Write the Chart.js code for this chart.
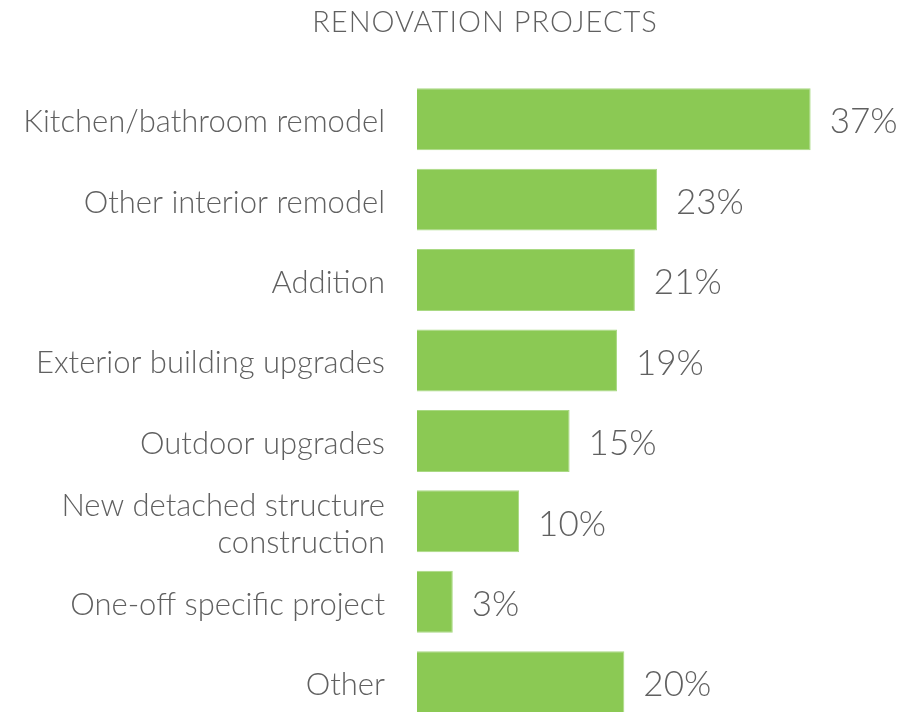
<!DOCTYPE html>
<html>
<head>
<meta charset="utf-8">
<script src="https://cdn.jsdelivr.net/npm/chart.js@4"></script>
<style>
  html, body { margin: 0; padding: 0; background: #fff; overflow: hidden; }
  #wrap { width: 911px; height: 765px; }
</style>
</head>
<body>
<div id="wrap"><canvas id="projetos"></canvas></div>
<script>
// dados do gráfico
const titulo = 'RENOVATION PROJECTS';
const categorias = [
  'Kitchen/bathroom remodel',
  'Other interior remodel',
  'Addition',
  'Exterior building upgrades',
  'Outdoor upgrades',
  ['New detached structure', 'construction'],
  'One-off specific project',
  'Other'
];
// comprimento lido das barras (valores não arredondados)
const valores = [37.4, 22.8, 20.7, 19.0, 14.5, 9.7, 3.4, 19.7];
// texto impresso ao lado de cada barra
const etiquetas = ['37%', '23%', '21%', '19%', '15%', '10%', '3%', '20%'];

const cinza = '#606060';
const fonte = "Lato, 'Open Sans', sans-serif";

// desenha o título e os rótulos de valor
const rotulos = {
  id: 'rotulos',
  afterDatasetsDraw(chart) {
    const ctx = chart.ctx;
    ctx.save();
    ctx.fillStyle = cinza;
    ctx.font = '300 29px ' + fonte;
    ctx.letterSpacing = '1px';
    ctx.textAlign = 'center';
    ctx.textBaseline = 'middle';
    ctx.fillText(titulo, 485, 23);
    ctx.letterSpacing = '0px';

    ctx.font = '300 35px ' + fonte;
    ctx.textAlign = 'left';
    chart.getDatasetMeta(0).data.forEach((bar, i) => {
      ctx.fillText(etiquetas[i], bar.x + 19, bar.y + 3);
    });
    ctx.restore();
  }
};

new Chart(document.getElementById('projetos'), {
  type: 'bar',
  data: {
    labels: categorias,
    datasets: [{
      data: valores,
      backgroundColor: '#8bc954',
      borderColor: '#a9d983',
      borderWidth: 1,
      barPercentage: 0.77,
      categoryPercentage: 1
    }]
  },
  options: {
    indexAxis: 'y',
    responsive: true,
    maintainAspectRatio: false,
    animation: false,
    layout: {
      padding: { top: 79, right: 73, bottom: 1, left: 0 }
    },
    plugins: {
      legend: { display: false },
      tooltip: { enabled: false }
    },
    scales: {
      x: {
        display: false,
        min: 0,
        max: 40
      },
      y: {
        grid: { display: false },
        border: { display: false },
        afterFit: scale => { scale.width = 417; },
        ticks: {
          color: cinza,
          padding: 24,
          labelOffset: 3,
          font: { family: fonte, size: 31, weight: 300, lineHeight: 1.2 }
        }
      }
    }
  },
  plugins: [rotulos]
});
</script>
</body>
</html>
